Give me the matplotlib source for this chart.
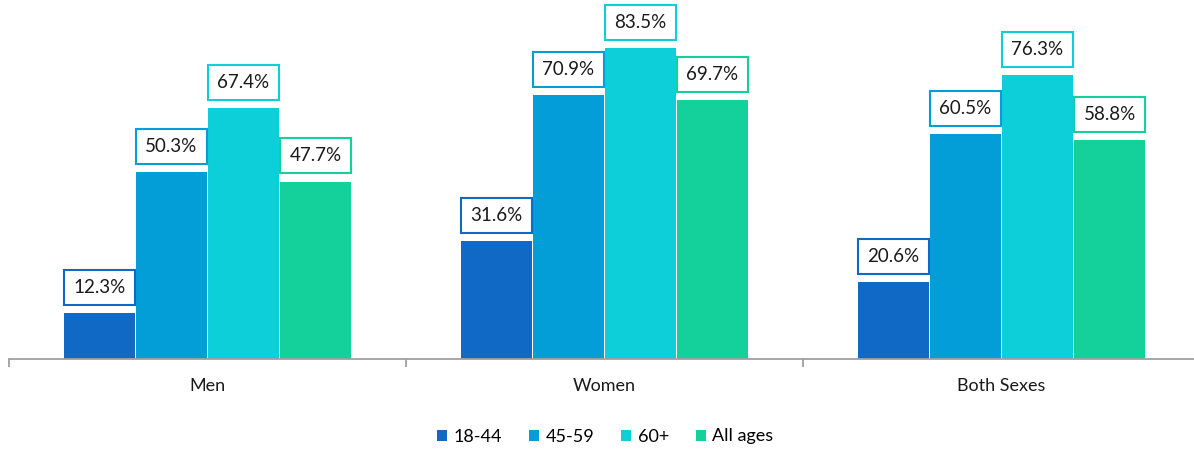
import numpy as np
import matplotlib.pyplot as plt
from matplotlib.patches import Patch, Rectangle

categories = ["Men", "Women", "Both Sexes"]
age_groups = ["18-44", "45-59", "60+", "All ages"]
values_18_44 = [12.3, 31.6, 20.6]
values_45_59 = [50.3, 70.9, 60.5]
values_60_plus = [67.4, 83.5, 76.3]
values_all_ages = [47.7, 69.7, 58.8]

colors = ["#1069C4", "#039ED8", "#0DCFD9", "#14D09B"]
series = [values_18_44, values_45_59, values_60_plus, values_all_ages]

plt.rcParams["font.family"] = ["Lato", "DejaVu Sans"]

fig = plt.figure(figsize=(11.94, 4.5), dpi=100)
ax = fig.add_axes([9 / 1194, 91 / 450, 1191 / 1194, 359 / 450])

x = np.arange(len(categories))
slot = 0.1814
width = 0.177
box_h = 9.4
box_gap = 2.2

for i, (name, vals) in enumerate(zip(age_groups, series)):
    offset = (i - 1.5) * slot
    ax.bar(x + offset, vals, width, color=colors[i], label=name,
           edgecolor="none", zorder=2)
    for xi, v in zip(x + offset, vals):
        ax.add_patch(Rectangle((xi - width / 2, v + box_gap), width, box_h,
                               facecolor="white", edgecolor=colors[i],
                               linewidth=1.5, zorder=3))
        ax.text(xi, v + box_gap + box_h / 2, f"{v:.1f}%", ha="center",
                va="center", fontsize=13.5, color="#1a1a1a", zorder=4)

ax.set_xlim(-0.5, 2.5)
ax.set_ylim(0, 96.5)
ax.set_yticks([])
for side in ["top", "right", "left"]:
    ax.spines[side].set_visible(False)
ax.spines["bottom"].set_color("#A0A0A0")
ax.spines["bottom"].set_linewidth(1.3)

ax.set_xticks(x)
ax.set_xticklabels(categories, fontsize=13, color="#1a1a1a")
ax.tick_params(axis="x", which="major", length=0, pad=14)
ax.set_xticks([-0.5, 0.5, 1.5, 2.5], minor=True)
ax.tick_params(axis="x", which="minor", length=6, width=1.3, color="#A0A0A0")

handles = [Patch(facecolor=c, label=n) for c, n in zip(colors, age_groups)]
fig.legend(handles=handles, loc="center", bbox_to_anchor=(0.507, 0.03),
           ncol=4, frameon=False, fontsize=13, handlelength=0.55,
           handleheight=0.55, handletextpad=0.35, columnspacing=1.5)

fig.savefig("out.png", dpi=100)
